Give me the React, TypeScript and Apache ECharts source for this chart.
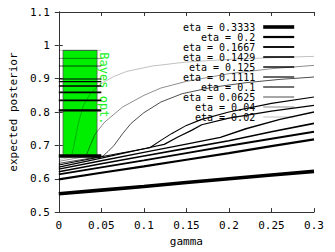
import React, { useEffect, useRef } from "react";
import * as echarts from "echarts";

// ---- data ----
const etaNames = [
  "eta = 0.3333",
  "eta = 0.2",
  "eta = 0.1667",
  "eta = 0.1429",
  "eta = 0.125",
  "eta = 0.1111",
  "eta = 0.1",
  "eta = 0.0625",
  "eta = 0.04",
  "eta = 0.02",
];

const curve3333 = [[0, 0.555], [0.05, 0.566], [0.1, 0.577], [0.15, 0.589], [0.2, 0.6], [0.25, 0.611], [0.3, 0.622]];
const curve2 = [[0, 0.598], [0.05, 0.618], [0.1, 0.637], [0.15, 0.657], [0.2, 0.677], [0.25, 0.698], [0.3, 0.718]];
const curve1667 = [[0, 0.613], [0.05, 0.634], [0.1, 0.655], [0.15, 0.677], [0.2, 0.699], [0.25, 0.72], [0.3, 0.741]];
const curve1429 = [[0, 0.621], [0.05, 0.645], [0.1, 0.668], [0.15, 0.691], [0.2, 0.714], [0.25, 0.741], [0.3, 0.766]];
const curve125 = [[0, 0.629], [0.05, 0.654], [0.1, 0.679], [0.15, 0.704], [0.19, 0.724], [0.22, 0.75], [0.26, 0.778], [0.3, 0.8]];
const curve1111 = [[0, 0.635], [0.05, 0.662], [0.1, 0.69], [0.124, 0.703], [0.14, 0.725], [0.156, 0.745], [0.168, 0.762], [0.2, 0.782], [0.25, 0.803], [0.3, 0.82]];
const curve1 = [[0, 0.641], [0.05, 0.666], [0.107, 0.693], [0.12, 0.715], [0.133, 0.736], [0.15, 0.76], [0.168, 0.778], [0.2, 0.8], [0.25, 0.826], [0.3, 0.845]];
const curve0625 = [[0, 0.646], [0.052, 0.668], [0.058, 0.682], [0.065, 0.7], [0.075, 0.735], [0.085, 0.766], [0.1, 0.798], [0.12, 0.83], [0.145, 0.855], [0.18, 0.874], [0.22, 0.888], [0.26, 0.898], [0.3, 0.905]];
const curve04 = [[0, 0.652], [0.032, 0.667], [0.037, 0.7], [0.043, 0.735], [0.054, 0.77], [0.075, 0.815], [0.1, 0.85], [0.12, 0.872], [0.15, 0.892], [0.2, 0.915], [0.25, 0.93], [0.3, 0.94]];
const curve02 = [[0, 0.657], [0.015, 0.665], [0.023, 0.766], [0.029, 0.82], [0.037, 0.855], [0.049, 0.884], [0.065, 0.907], [0.08, 0.922], [0.11, 0.938], [0.15, 0.95], [0.2, 0.958], [0.25, 0.963], [0.3, 0.967]];

const curves = [curve3333, curve2, curve1667, curve1429, curve125, curve1111, curve1, curve0625, curve04, curve02];

// Bayes optimal values per eta (same order), drawn over gamma 0..0.05
const bayesOpt = [0.668, 0.805, 0.835, 0.859, 0.878, 0.891, 0.899, 0.938, 0.961, 0.985];
const bayesGamma = [0, 0.05];
const boxGamma = [0.005, 0.045];

const xTicks = { min: 0, max: 0.3, interval: 0.05 };
const yTicks = { min: 0.5, max: 1.1, interval: 0.1 };

// ---- styles ----
const lineWidths = [3.6, 2.2, 1.85, 1.6, 1.4, 1.2, 1.1, 0.7, 0.45, 0.25];
const MONO = "DejaVu Sans Mono";

export default function App() {
  const ref = useRef<HTMLDivElement>(null);
  useEffect(() => {
    if (!ref.current) return;
    const chart = echarts.init(ref.current, undefined, { renderer: "svg" });
    const bMin = Math.min(...bayesOpt);
    const bMax = Math.max(...bayesOpt);

    const curveSeries = curves.map((c, i) => ({
      type: "line",
      name: etaNames[i],
      data: c,
      symbol: "none",
      smooth: false,
      lineStyle: { color: "#000", width: lineWidths[i] },
      itemStyle: { color: "#000" },
      z: 3,
    }));
    const bayesSeries = bayesOpt.map((b, i) => ({
      type: "line",
      name: "bayes " + etaNames[i],
      data: bayesGamma.map((g) => [g, b]),
      symbol: "none",
      lineStyle: { color: "#000", width: lineWidths[i] },
      z: 3,
    }));

    const axisCommon = {
      axisLine: { show: true, lineStyle: { color: "#333", width: 1 } },
      axisTick: { show: true, inside: true, length: 4, lineStyle: { color: "#333" } },
      splitLine: { show: false },
    };

    chart.setOption({
      animation: false,
      backgroundColor: "#fff",
      grid: { left: 55, right: 21, top: 12, bottom: 37 },
      xAxis: [
        {
          type: "value",
          ...xTicks,
          ...axisCommon,
          name: "gamma",
          nameLocation: "middle",
          nameGap: 22,
          nameTextStyle: { fontFamily: MONO, fontSize: 11, color: "#000" },
          axisLabel: { fontFamily: MONO, fontSize: 11, color: "#000", margin: 8 },
        },
        {
          type: "value",
          position: "top",
          ...xTicks,
          ...axisCommon,
          axisLabel: { show: false },
        },
      ],
      yAxis: [
        {
          type: "value",
          ...yTicks,
          ...axisCommon,
          name: "expected posterior",
          nameLocation: "middle",
          nameGap: 38,
          nameTextStyle: { fontFamily: MONO, fontSize: 11, color: "#000" },
          axisLabel: { fontFamily: MONO, fontSize: 11, color: "#000", margin: 9 },
        },
        {
          type: "value",
          position: "right",
          ...yTicks,
          ...axisCommon,
          axisLabel: { show: false },
        },
      ],
      legend: {
        data: etaNames,
        orient: "vertical",
        right: 34,
        top: 17,
        itemWidth: 31,
        itemHeight: 11,
        itemGap: 0,
        align: "right",
        selectedMode: false,
        lineStyle: { width: "inherit" },
        itemStyle: { color: "rgba(0,0,0,0)", borderWidth: 0, opacity: 0 },
        formatter: (n: string) => `{t|${n}}`,
        textStyle: {
          rich: {
            t: { width: 80, align: "right", fontFamily: MONO, fontSize: 10, lineHeight: 11, color: "#000", padding: [0, 3, 0, 0] },
          },
        },
      },
      series: [
        {
          type: "custom",
          name: "box",
          z: 1,
          data: [[boxGamma[0], boxGamma[1], bMin, bMax]],
          encode: { x: [0, 1], y: [2, 3] },
          renderItem: (params: any, api: any) => {
            const p0 = api.coord([api.value(0), api.value(3)]);
            const p1 = api.coord([api.value(1), api.value(2)]);
            return {
              type: "group",
              children: [
                {
                  type: "rect",
                  shape: { x: p0[0], y: p0[1], width: p1[0] - p0[0], height: p1[1] - p0[1] },
                  style: { fill: "#00ee00", stroke: "#555", lineWidth: 0.8 },
                },
                {
                  type: "text",
                  x: p1[0] + 7,
                  y: p0[1] + 2,
                  rotation: -Math.PI / 2,
                  style: {
                    text: "Bayes opt.",
                    fill: "#22f022",
                    font: `12px "${MONO}"`,
                    textAlign: "left",
                    textVerticalAlign: "middle",
                  },
                },
              ],
            };
          },
        },
        ...bayesSeries,
        ...curveSeries,
      ],
    });
    return () => chart.dispose();
  }, []);
  return (
    <div
      ref={ref}
      style={{ position: "absolute", left: 0, top: 0, width: 335, height: 252, background: "#fff" }}
    />
  );
}
